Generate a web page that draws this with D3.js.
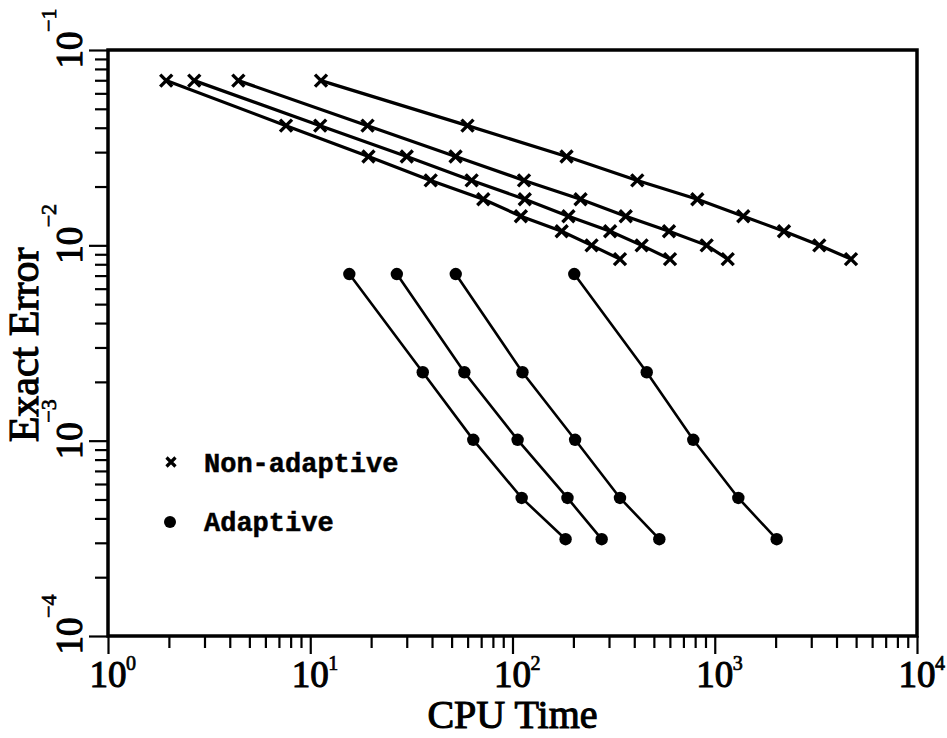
<!DOCTYPE html>
<html>
<head>
<meta charset="utf-8">
<script src="https://cdn.jsdelivr.net/npm/d3@7"></script>
<style>
  body { margin: 0; background: #fff; }
  svg { display: block; }
</style>
</head>
<body>
<svg id="chart"></svg>
<script>
var width = 947,
    height = 738,
    left = 108,
    right = 917,
    top_ = 50,
    bottom = 636;

// non-adaptive runs: cpu time per refinement level, error shared by all runs
var cpu_na = [
  [1.94, 7.59, 19.4, 39.4, 71.7, 110, 175, 246, 340],
  [2.67, 11.2, 30.0, 62.8, 115, 189, 304, 435, 601],
  [4.41, 19.2, 52.3, 114, 217, 363, 594, 912, 1159],
  [11.3, 59.9, 185, 414, 820, 1384, 2200, 3288, 4717]
];
var err_na = [0.0697, 0.0410, 0.0285, 0.0215, 0.0172, 0.0141, 0.0118, 0.0100, 0.0085];

// adaptive runs
var cpu_ad = [
  [15.6, 36.0, 64.0, 111, 183],
  [26.8, 57.8, 106, 187, 276],
  [52.4, 112, 204, 340, 532],
  [202, 461, 783, 1308, 2024]
];
var err_ad = [0.00713, 0.00224, 0.00101, 0.000509, 0.000313];

var x_decades = [0, 1, 2, 3, 4];
var y_decades = [-4, -3, -2, -1];
var legend_labels = ["Non-adaptive", "Adaptive"];

var serif = "'Liberation Serif', 'Times New Roman', serif";
var mono = "'Liberation Mono', 'Courier New', monospace";

var svg = d3.select("#chart").attr("width", width).attr("height", height);

var x = d3.scaleLog().domain([1, 1e4]).range([left, right]);
var y = d3.scaleLog().domain([1e-4, 1e-1]).range([bottom, top_]);

function minorTicks(decades) {
  var t = [];
  for (var i = 0; i < decades.length - 1; i++) {
    for (var k = 2; k <= 9; k++) t.push(k * Math.pow(10, decades[i]));
  }
  return t;
}

function majorTicks(decades) {
  return decades.map(function(d) { return Math.pow(10, d); });
}

function drawAxes() {
  var gx = svg.append("g").attr("transform", "translate(0," + bottom + ")");
  gx.call(d3.axisBottom(x).tickValues(minorTicks(x_decades)).tickSize(12).tickFormat(""));
  gx.append("g").call(d3.axisBottom(x).tickValues(majorTicks(x_decades)).tickSize(18).tickFormat(""));
  var gy = svg.append("g").attr("transform", "translate(" + left + ",0)");
  gy.call(d3.axisLeft(y).tickValues(minorTicks(y_decades)).tickSize(13).tickFormat(""));
  gy.append("g").call(d3.axisLeft(y).tickValues(majorTicks(y_decades)).tickSize(19).tickFormat(""));
  svg.selectAll(".domain").remove();
  svg.selectAll(".tick line").attr("stroke", "#000").attr("stroke-width", 2.2);

  // frame
  svg.append("rect")
    .attr("x", left).attr("y", top_)
    .attr("width", right - left).attr("height", bottom - top_)
    .attr("fill", "none").attr("stroke", "#000").attr("stroke-width", 3.5);

  // x tick labels
  x_decades.forEach(function(d) {
    var px = x(Math.pow(10, d));
    svg.append("text").attr("x", px).attr("y", 687)
      .attr("text-anchor", "middle")
      .style("font-family", serif).style("font-size", "37px")
      .attr("stroke", "#000").attr("stroke-width", 1.1)
      .text("10");
    svg.append("text").attr("x", px + 18).attr("y", 670)
      .style("font-family", serif).style("font-size", "20px")
      .attr("stroke", "#000").attr("stroke-width", 0.7)
      .text(d);
  });

  // y tick labels, rotated
  y_decades.forEach(function(d) {
    var py = y(Math.pow(10, d));
    var g = svg.append("g").attr("transform", "translate(82," + py + ") rotate(-90)");
    g.append("text").attr("x", 0).attr("y", 0)
      .attr("text-anchor", "middle")
      .style("font-family", serif).style("font-size", "37px")
      .attr("stroke", "#000").attr("stroke-width", 1.1)
      .text("10");
    g.append("text").attr("x", 18).attr("y", -26)
      .style("font-family", serif).style("font-size", "22px")
      .attr("stroke", "#000").attr("stroke-width", 0.7)
      .text("\u2212" + Math.abs(d));
  });

  // axis titles
  svg.append("text").attr("x", (left + right) / 2).attr("y", 728)
    .attr("text-anchor", "middle")
    .style("font-family", serif).style("font-size", "40px")
    .attr("stroke", "#000").attr("stroke-width", 1.1)
    .text("CPU Time");
  svg.append("text")
    .attr("transform", "translate(38," + 345 + ") rotate(-90)")
    .attr("text-anchor", "middle")
    .style("font-family", serif).style("font-size", "42px")
    .attr("stroke", "#000").attr("stroke-width", 1.1)
    .text("Exact Error");
}

function crossPath(s) {
  return "M" + (-s) + "," + (-s) + "L" + s + "," + s + "M" + (-s) + "," + s + "L" + s + "," + (-s);
}

function drawSeries() {
  var line = d3.line()
    .x(function(d) { return x(d[0]); })
    .y(function(d) { return y(d[1]); });

  var na = cpu_na.map(function(run) {
    return run.map(function(c, i) { return [c, err_na[i]]; });
  });
  var ad = cpu_ad.map(function(run) {
    return run.map(function(c, i) { return [c, err_ad[i]]; });
  });

  svg.append("g").selectAll("path")
    .data(na).enter().append("path")
    .attr("d", line)
    .attr("fill", "none").attr("stroke", "#000").attr("stroke-width", 3.2);

  svg.append("g").selectAll("path")
    .data(ad).enter().append("path")
    .attr("d", line)
    .attr("fill", "none").attr("stroke", "#000").attr("stroke-width", 2.6);

  svg.append("g").selectAll("path")
    .data(d3.merge(na)).enter().append("path")
    .attr("transform", function(d) { return "translate(" + x(d[0]) + "," + y(d[1]) + ")"; })
    .attr("d", crossPath(6))
    .attr("stroke", "#000").attr("stroke-width", 3.4).attr("fill", "none");

  svg.append("g").selectAll("circle")
    .data(d3.merge(ad)).enter().append("circle")
    .attr("cx", function(d) { return x(d[0]); })
    .attr("cy", function(d) { return y(d[1]); })
    .attr("r", 6.2)
    .attr("fill", "#000");
}

function drawLegend() {
  svg.append("path")
    .attr("transform", "translate(171,462)")
    .attr("d", crossPath(4.5))
    .attr("stroke", "#000").attr("stroke-width", 3.2).attr("fill", "none");
  svg.append("circle").attr("cx", 170).attr("cy", 522).attr("r", 6).attr("fill", "#000");
  svg.selectAll(".legend-text")
    .data(legend_labels).enter().append("text")
    .attr("class", "legend-text")
    .attr("x", 204)
    .attr("y", function(d, i) { return 472 + i * 59; })
    .style("font-family", mono).style("font-size", "27px").style("font-weight", "bold")
    .attr("stroke", "#000").attr("stroke-width", 0.5)
    .text(function(d) { return d; });
}

drawSeries();
drawAxes();
drawLegend();
</script>
</body>
</html>
